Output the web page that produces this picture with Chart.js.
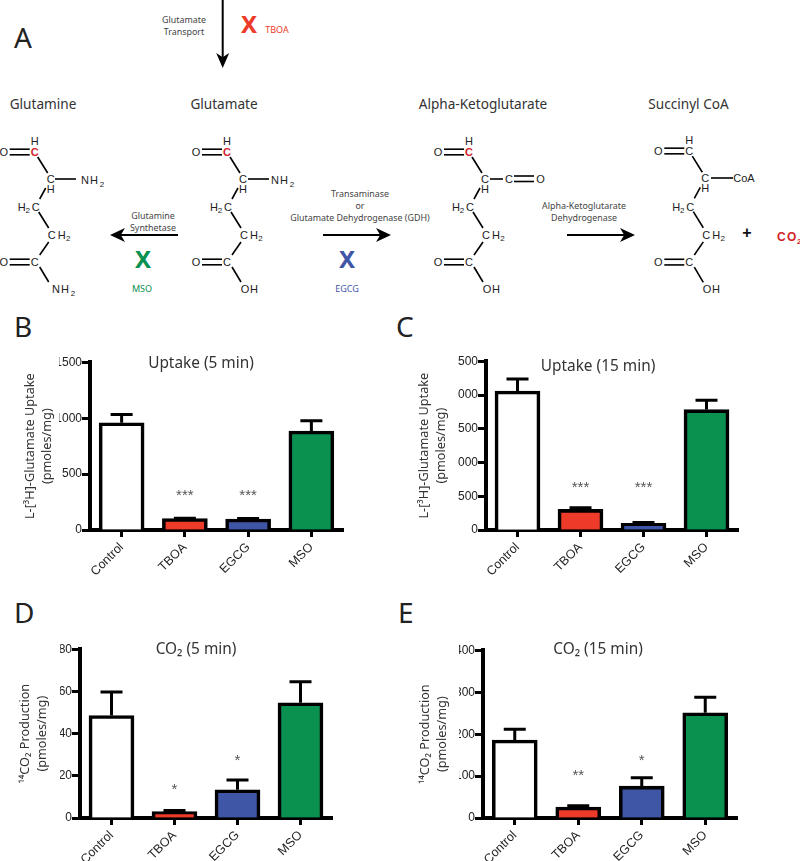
<!DOCTYPE html>
<html><head><meta charset="utf-8">
<script src="https://cdn.jsdelivr.net/npm/chart.js@4"></script>
<style>
html,body{margin:0;padding:0;background:#fff;width:800px;height:861px;overflow:hidden}
#stage{position:relative;width:800px;height:861px;overflow:hidden}
canvas{position:absolute}
svg{position:absolute;left:0;top:0}
</style></head><body><div id="stage"><svg id="dia" width="800" height="861" xmlns="http://www.w3.org/2000/svg"></svg></div>
<script>
// ---- data ----
const categories = ['Control','TBOA','EGCG','MSO'];
const barColors = ['#ffffff','#ee3a29','#3f56a6','#0a9150'];

const uptake5Values = [960, 102, 98, 885];
const uptake5ErrorTops = [1033, 106, 104, 977];
const uptake5Stars = ['', '***', '***', ''];
const uptake5StarValues = [0, 327, 327, 0];
const uptake5Ticks = [0, 500, 1000, 1500];

const uptake15Values = [2060, 306, 100, 1785];
const uptake15ErrorTops = [2240, 330, 110, 1925];
const uptake15Stars = ['', '***', '***', ''];
const uptake15StarValues = [0, 665, 665, 0];
const uptake15Ticks = [0, 500, 1000, 1500, 2000, 2500];

const co25Values = [48.6, 3, 13.4, 54.7];
const co25ErrorTops = [59.8, 3.5, 18, 64.7];
const co25Stars = ['', '*', '*', ''];
const co25StarValues = [0, 14.7, 28.7, 0];
const co25Ticks = [0, 20, 40, 60, 80];

const co215Values = [186, 26, 76, 251];
const co215ErrorTops = [212, 29, 96, 288];
const co215Stars = ['', '**', '*', ''];
const co215StarValues = [0, 107, 144, 0];
const co215Ticks = [0, 100, 200, 300, 400];

const uptakeAxisTitle = ['L-[³H]-Glutamate Uptake','(pmoles/mg)'];
const co2AxisTitle = ['¹⁴CO₂ Production','(pmoles/mg)'];

// ---- plugin: error bars and significance marks, through the chart's scales ----
const errorStars = {
  id:'errorStars',
  afterDatasetsDraw(chart){
    const {ctx,scales:{x,y}} = chart, ds = chart.data.datasets[0];
    ctx.save();
    ctx.strokeStyle='#000'; ctx.lineWidth=3; ctx.lineCap='butt';
    ds.errorTops.forEach((top,i)=>{
      const px=x.getPixelForValue(i), y0=y.getPixelForValue(ds.data[i]), y1=y.getPixelForValue(top);
      ctx.beginPath();
      ctx.moveTo(px,y0); ctx.lineTo(px,y1);
      ctx.moveTo(px-11,y1); ctx.lineTo(px+11,y1);
      ctx.stroke();
    });
    ctx.fillStyle='#555'; ctx.font='15px "Liberation Sans"'; ctx.textAlign='center'; ctx.textBaseline='alphabetic';
    ds.stars.forEach((s,i)=>{
      if(s) ctx.fillText(s,x.getPixelForValue(i),y.getPixelForValue(ds.starValues[i])+7);
    });
    ctx.restore();
  }
};

function panel(p){
  const c=document.createElement('canvas');
  c.width=p.w; c.height=p.h;
  c.style.left=p.left+'px'; c.style.top=p.top+'px';
  c.style.width=p.w+'px'; c.style.height=p.h+'px';
  document.getElementById('stage').appendChild(c);
  new Chart(c,{
    type:'bar',
    data:{labels:categories,datasets:[{
      data:p.values,errorTops:p.errs,stars:p.stars,starValues:p.starValues,
      backgroundColor:barColors,borderColor:'#000',borderWidth:3.6,borderSkipped:'bottom',barThickness:45
    }]},
    plugins:[errorStars],
    options:{
      responsive:false,animation:false,devicePixelRatio:1,
      layout:{padding:{top:0,left:p.pl,bottom:0,right:p.right}},
      plugins:{
        legend:{display:false},tooltip:{enabled:false},
        title:{display:true,text:p.title,color:'#333',
          font:{family:'"Noto Sans"',size:15.4,weight:'normal',lineHeight:1.2},
          padding:{top:p.tpt,bottom:p.tpb}}
      },
      scales:{
        x:{
          z:1,
          afterFit(s){s.height=p.xh},
          border:{display:true,color:'#000',width:4},
          grid:{display:true,offset:false,drawOnChartArea:false,drawTicks:true,tickLength:7,tickWidth:3,tickColor:'#000',color:'#000'},
          ticks:{color:'#222',font:{family:'"Liberation Sans"',size:12.5},maxRotation:45,minRotation:45,padding:3,autoSkip:false}
        },
        y:{
          min:0,max:p.ticks[p.ticks.length-1],
          afterFit(s){s.width=p.yw},
          afterBuildTicks(s){s.ticks=p.ticks.map(v=>({value:v}))},
          border:{display:true,color:'#000',width:4},
          grid:{display:true,drawOnChartArea:false,drawTicks:true,tickLength:8,tickWidth:3,tickColor:'#000',color:'#000'},
          ticks:{color:'#222',font:{family:'"Liberation Sans"',size:12},padding:0,callback:v=>String(v)},
          title:{display:true,text:p.axisTitle,color:'#333',
            font:{family:'"Noto Sans"',size:12.7,weight:'normal',lineHeight:1.34},
            padding:{top:p.ytp,bottom:0}}
        }
      }
    }
  });
}

panel({left:0,top:350,w:402,h:240,pl:59,right:59,yw:31,xh:60,tpt:4.3,tpb:-10.4,ytp:-37,
  title:'Uptake (5 min)',axisTitle:uptakeAxisTitle,values:uptake5Values,errs:uptake5ErrorTops,stars:uptake5Stars,starValues:uptake5StarValues,ticks:uptake5Ticks});
panel({left:400,top:350,w:396,h:240,pl:58,right:58,yw:28,xh:60,tpt:7,tpb:-14.1,ytp:-42.3,
  title:'Uptake (15 min)',axisTitle:uptakeAxisTitle,values:uptake15Values,errs:uptake15ErrorTops,stars:uptake15Stars,starValues:uptake15StarValues,ticks:uptake15Ticks});
panel({left:0,top:630,w:392,h:231,pl:60,right:60,yw:20,xh:43,tpt:10.3,tpb:-9.4,ytp:-43,
  title:'CO₂ (5 min)',axisTitle:co2AxisTitle,values:co25Values,errs:co25ErrorTops,stars:co25Stars,starValues:co25StarValues,ticks:co25Ticks});
panel({left:400,top:630,w:396,h:231,pl:59,right:59,yw:24,xh:43,tpt:10.3,tpb:-8.4,ytp:-42,
  title:'CO₂ (15 min)',axisTitle:co2AxisTitle,values:co215Values,errs:co215ErrorTops,stars:co215Stars,starValues:co215StarValues,ticks:co215Ticks});

// ---- pathway diagram (panel A) ----
const NS='http://www.w3.org/2000/svg', dia=document.getElementById('dia');
function el(n,a,t){const e=document.createElementNS(NS,n);for(const k in a)e.setAttribute(k,a[k]);if(t!=null)e.textContent=t;dia.appendChild(e);return e;}
function txt(x,y,s,size,col,anchor,fam,weight){el('text',{x,y,'font-size':size,fill:col||'#333','text-anchor':anchor||'middle','font-family':fam||'Noto Sans','font-weight':weight||'normal'},s);}
function line(x1,y1,x2,y2,w){el('line',{x1,y1,x2,y2,stroke:'#000','stroke-width':w||1.6});}
function atom(x,y,s,col,size,w){txt(x,y+4,s,size||11,col||'#222','middle','Liberation Sans',w);}
function arrow(x1,y1,x2,y2,back,half){
  const dx=Math.sign(x2-x1),dy=Math.sign(y2-y1);
  line(x1,y1,x2-dx*back*0.7,y2-dy*back*0.7,2);
  const bx=x2-dx*back,by=y2-dy*back,nx=-dy*half,ny=dx*half;
  el('path',{d:`M${x2} ${y2}L${bx+nx} ${by+ny}L${x2-dx*back*0.72} ${y2-dy*back*0.72}L${bx-nx} ${by-ny}Z`,fill:'#000'});
}
function backbone(ox,oy,sy,redC){
  const Y=v=>oy+v*sy;
  atom(ox,Y(-11),'H'); atom(ox-31,Y(0),'O');
  atom(ox,Y(0),'C',redC?'#d2232a':'#222',11,redC?'bold':'normal');
  line(ox-25,Y(-2.8),ox-5,Y(-2.8)); line(ox-25,Y(2.8),ox-5,Y(2.8));
  line(ox+3,Y(5),ox+13,Y(21));
  atom(ox+16,Y(27),'C'); atom(ox+16,Y(37),'H');
  line(ox+11,Y(36),ox+5,Y(47));
  atom(ox-13,Y(55),'H'); atom(ox-7,Y(57),'2','#222',8); atom(ox+1,Y(55),'C');
  line(ox+4,Y(60),ox+14,Y(76));
  atom(ox+17,Y(83),'C'); atom(ox+27,Y(83),'H'); atom(ox+33.5,Y(85),'2','#222',8);
  line(ox+14,Y(90),ox+5,Y(103));
  atom(ox,Y(110),'C'); atom(ox-31,Y(110),'O');
  line(ox-25,Y(107.2),ox-5,Y(107.2)); line(ox-25,Y(112.8),ox-5,Y(112.8));
  line(ox+5,Y(115),ox+14,Y(130));
}
function nh2(x,y){atom(x,y,'N');atom(x+9,y,'H');atom(x+17,y+2.5,'2','#222',8);}
function oh(x,y){atom(x,y,'O');atom(x+9,y,'H');}

// glutamine
backbone(34.7,152,1,true); line(55,179,76,179); nh2(85,180); nh2(56,289);
// glutamate
backbone(227,152,1,true); line(248,179,269,179); nh2(275,180); oh(245,289);
// alpha-ketoglutarate
backbone(469,152,1,true); line(490,179,503,179); atom(509,179,'C');
line(514,176,534,176); line(514,181.5,534,181.5); atom(540.5,179,'O'); oh(487,289);
// succinyl CoA
backbone(689.3,151,1.01,false); line(711,178,733,178); atom(744,178,'CoA'); oh(707,289);

txt(43,109,'Glutamine',13.6); txt(224,109,'Glutamate',13.6);
txt(483,109,'Alpha-Ketoglutarate',13.6); txt(688.5,109,'Succinyl CoA',13.6);

const big='#222';
txt(14,48,'A',28,big,'start'); txt(14,337,'B',28,big,'start');
txt(396,337,'C',28,big,'start'); txt(14,623,'D',28,big,'start'); txt(398,623,'E',28,big,'start');

const small=8.9;
arrow(222.7,0,222.7,68,15,6.5);
txt(184,23,'Glutamate',small,'#444'); txt(184,35,'Transport',small,'#444');
txt(249,33,'X',24,'#ee3a29','middle','Noto Sans','bold'); txt(277,33,'TBOA',9,'#ee3a29');

arrow(178,235,110,235,15,7);
txt(153,219,'Glutamine',small,'#444'); txt(153,231,'Synthetase',small,'#444');
txt(143,268,'X',24,'#0a9150','middle','Noto Sans','bold'); txt(142,292,'MSO',9,'#0a9150');

arrow(323,235,391,235,15,7);
txt(360,197,'Transaminase',small,'#444'); txt(360,209,'or',small,'#444'); txt(360,221,'Glutamate Dehydrogenase (GDH)',small,'#444');
txt(347,268,'X',24,'#3f56a6','middle','Noto Sans','bold'); txt(347,292,'EGCG',9,'#3f56a6');

arrow(567,235,635,235,15,7);
txt(584,209,'Alpha-Ketoglutarate',small,'#444'); txt(584,221,'Dehydrogenase',small,'#444');

txt(747,238,'+',16,'#111','middle','Liberation Sans','bold');
txt(777,241,'C',12,'#d2232a','start','Liberation Sans','bold');
txt(787,241,'O',12,'#d2232a','start','Liberation Sans','bold');
txt(797,244,'2',8,'#d2232a','start','Liberation Sans','bold');
</script></body></html>
